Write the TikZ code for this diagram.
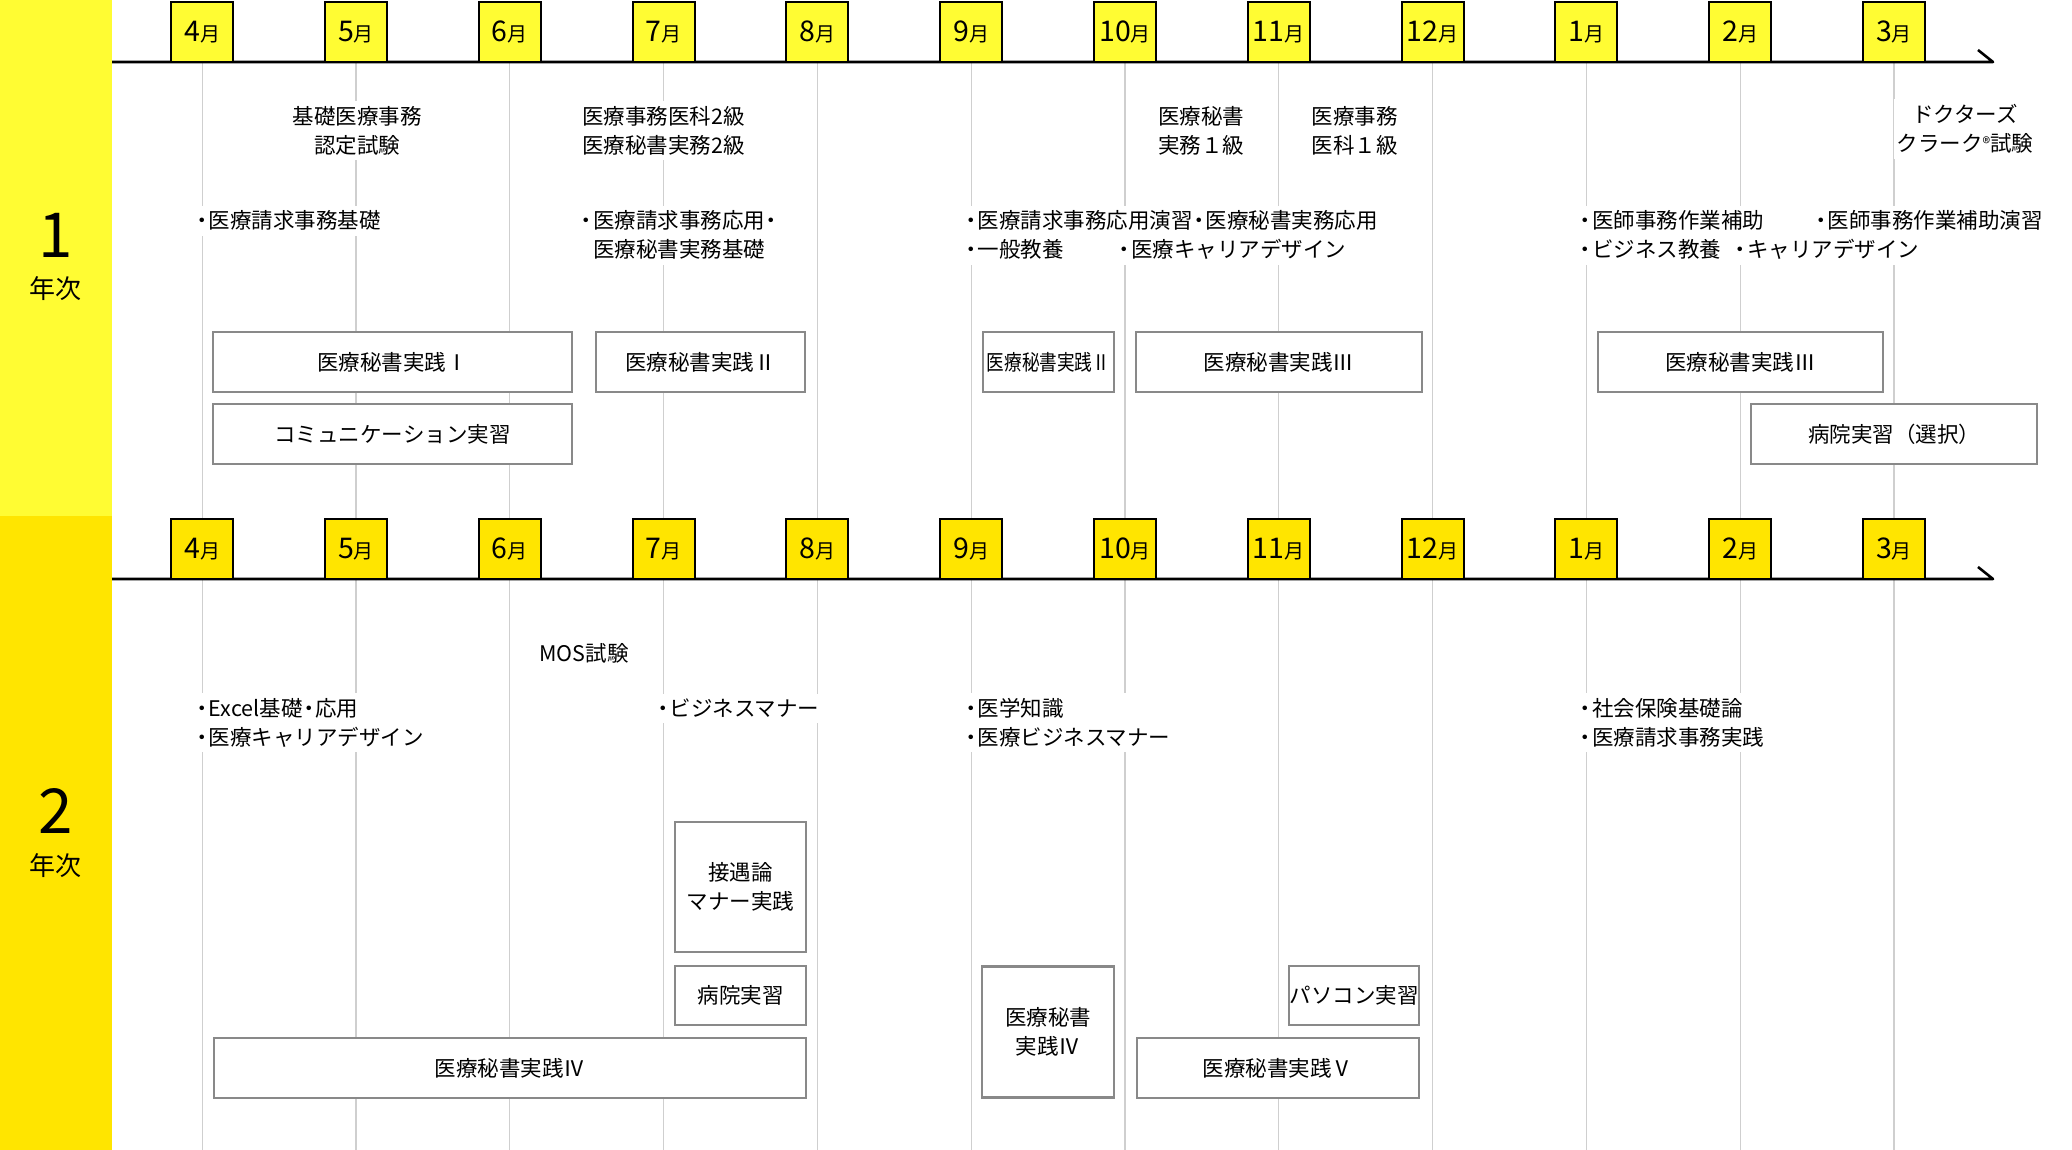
\documentclass[tikz,border=0pt]{standalone}
\usepackage{fontspec}
\setmainfont{Noto Sans CJK JP}
\usepackage{tikz}
\usetikzlibrary{backgrounds}
\definecolor{Amarillo1}{HTML}{FFFC33}
\definecolor{Amarillo2}{HTML}{FFE500}
\definecolor{Gris1}{HTML}{898989}
\definecolor{Gris2}{HTML}{CFCFCF}
\newcommand{\texto}{\fontsize{21.5}{29}\selectfont}
\newcommand{\etiq}[1]{{\fontsize{28.5}{28.5}\selectfont #1}{\fontsize{20}{20}\selectfont 月}}
\newcommand{\bul}{\makebox[0.6em][c]{・}}

\begin{document}
\begin{tikzpicture}[x=1pt, y=-1pt,
  mesA/.style ={rectangle, draw=black, line width=2pt, fill=Amarillo1,
                minimum width=62, minimum height=60, inner sep=0pt},
  mesB/.style ={mesA, fill=Amarillo2},
  caja/.style ={rectangle, draw=Gris1, line width=2.2pt, fill=white,
                minimum height=60, inner sep=0pt, align=center, font=\texto},
  txt/.style  ={fill=white, inner xsep=3pt, inner ysep=5pt,
                align=center, font=\texto},
  lst/.style  ={txt, align=left, anchor=west},
  anio/.style ={inner sep=0pt},
  eje/.style  ={line width=2.6pt, line join=round},
  rejilla/.style={draw=Gris2, line width=1.3pt},
]
\useasboundingbox (0,0) rectangle (2072,1150);

%% ═══ 1年次 ═══
\node[anio, font=\fontsize{62}{62}\selectfont] (Y1)  at (55.5, 235) {1};
\node[anio, font=\fontsize{26}{26}\selectfont] (Y1t) at (55.5, 289) {年次};

\coordinate (EA0) at (112, 62);
\coordinate (EA1) at (1993, 62);
\coordinate (EAk) at (1978, 50);
\draw[eje] (EA0) -- (EA1) -- (EAk);

\node[mesA] (MA4)  at (202.2, 32)  {\etiq{4}};
\node[mesA] (MA5)  at (356.0, 32)  {\etiq{5}};
\node[mesA] (MA6)  at (509.8, 32)  {\etiq{6}};
\node[mesA] (MA7)  at (663.6, 32)  {\etiq{7}};
\node[mesA] (MA8)  at (817.4, 32)  {\etiq{8}};
\node[mesA] (MA9)  at (971.2, 32)  {\etiq{9}};
\node[mesA] (MA10) at (1125.0, 32) {\etiq{10}};
\node[mesA] (MA11) at (1278.8, 32) {\etiq{11}};
\node[mesA] (MA12) at (1432.6, 32) {\etiq{12}};
\node[mesA] (MA1)  at (1586.4, 32) {\etiq{1}};
\node[mesA] (MA2)  at (1740.2, 32) {\etiq{2}};
\node[mesA] (MA3)  at (1894.0, 32) {\etiq{3}};

% Exámenes
\node[txt] (AX1) at (357, 130.5)    {基礎医療事務\\認定試験};
\node[txt] (AX2) at (663.6, 130.5)  {医療事務医科2級\\医療秘書実務2級};
\node[txt] (AX3) at (1201, 130.5)   {医療秘書\\実務１級};
\node[txt] (AX4) at (1354.5, 130.5) {医療事務\\医科１級};
\node[txt] (AX5) at (1965, 129)
  {ドクターズ\\クラーク\raisebox{2pt}{\fontsize{16}{16}\selectfont ®}試験};

% Asignaturas
\node[lst] (AL1) at (192.7, 220.7) {\bul 医療請求事務基礎};
\node[lst] (AL2) at (577, 235.2)
  {\bul 医療請求事務応用\bul\\\makebox[0.6em]{}医療秘書実務基礎};
\node[lst] (AL3) at (961.5, 235.2)
  {\bul 医療請求事務応用演習\bul 医療秘書実務応用\\\bul 一般教養};
\node[lst] (AL4) at (1115, 249.7)  {\bul 医療キャリアデザイン};
\node[lst] (AL5) at (1576, 235.2)  {\bul 医師事務作業補助\\\bul ビジネス教養};
\node[lst] (AL6) at (1731, 249.7)  {\bul キャリアデザイン};
\node[lst] (AL7) at (1811.5, 220.7) {\bul 医師事務作業補助演習};

% Prácticas
\node[caja, minimum width=359] (AC1) at (392.5, 362)  {医療秘書実践Ⅰ};
\node[caja, minimum width=359] (AC2) at (392.5, 434)  {コミュニケーション実習};
\node[caja, minimum width=209] (AC3) at (700.5, 362)  {医療秘書実践Ⅱ};
\node[caja, minimum width=131] (AC4) at (1048.5, 362) {\scalebox{0.82}[1]{医療秘書実践Ⅱ}};
\node[caja, minimum width=286] (AC5) at (1279, 362)   {医療秘書実践Ⅲ};
\node[caja, minimum width=285] (AC6) at (1740.5, 362) {医療秘書実践Ⅲ};
\node[caja, minimum width=286] (AC7) at (1894, 434)   {病院実習（選択）};

%% ═══ 2年次 ═══
\node[anio, font=\fontsize{62}{62}\selectfont] (Y2)  at (55.5, 811)   {2};
\node[anio, font=\fontsize{26}{26}\selectfont] (Y2t) at (55.5, 865.5) {年次};

\coordinate (EB0) at (112, 579);
\coordinate (EB1) at (1993, 579);
\coordinate (EBk) at (1978, 567);
\draw[eje] (EB0) -- (EB1) -- (EBk);

\node[mesB] (MB4)  at (202.2, 549)  {\etiq{4}};
\node[mesB] (MB5)  at (356.0, 549)  {\etiq{5}};
\node[mesB] (MB6)  at (509.8, 549)  {\etiq{6}};
\node[mesB] (MB7)  at (663.6, 549)  {\etiq{7}};
\node[mesB] (MB8)  at (817.4, 549)  {\etiq{8}};
\node[mesB] (MB9)  at (971.2, 549)  {\etiq{9}};
\node[mesB] (MB10) at (1125.0, 549) {\etiq{10}};
\node[mesB] (MB11) at (1278.8, 549) {\etiq{11}};
\node[mesB] (MB12) at (1432.6, 549) {\etiq{12}};
\node[mesB] (MB1)  at (1586.4, 549) {\etiq{1}};
\node[mesB] (MB2)  at (1740.2, 549) {\etiq{2}};
\node[mesB] (MB3)  at (1894.0, 549) {\etiq{3}};

\node[txt] (BX1) at (584, 653) {MOS試験};

\node[lst] (BL1) at (192.7, 722.8) {\bul Excel基礎\bul 応用\\\bul 医療キャリアデザイン};
\node[lst] (BL2) at (653.5, 708.3) {\bul ビジネスマナー};
\node[lst] (BL3) at (961.5, 722.8) {\bul 医学知識\\\bul 医療ビジネスマナー};
\node[lst] (BL4) at (1576, 722.8)  {\bul 社会保険基礎論\\\bul 医療請求事務実践};

\node[caja, minimum width=131, minimum height=130] (BC1) at (740.5, 887)  {接遇論\\マナー実践};
\node[caja, minimum width=131, minimum height=59]  (BC2) at (740.5, 995.5) {病院実習};
\node[caja, minimum width=592]                     (BC3) at (510, 1068)    {医療秘書実践Ⅳ};
\node[caja, minimum width=132, minimum height=131] (BC4) at (1048, 1032)   {医療秘書\\実践Ⅳ};
\node[caja, minimum width=130, minimum height=59]  (BC5) at (1354, 995.5)  {パソコン実習};
\node[caja, minimum width=282]                     (BC6) at (1278, 1068)   {医療秘書実践Ⅴ};

% Fondo
\coordinate (FIN) at (0, 1150);
\begin{pgfonlayer}{background}
  \fill[Amarillo1] (0, 0) rectangle (112, 516);
  \fill[Amarillo2] (0, 516) rectangle (112, 1150);
  \draw[rejilla] (MA4.south)  -- (MB4.north)  (MB4.south)  -- (MB4.south |- FIN);
  \draw[rejilla] (MA5.south)  -- (MB5.north)  (MB5.south)  -- (MB5.south |- FIN);
  \draw[rejilla] (MA6.south)  -- (MB6.north)  (MB6.south)  -- (MB6.south |- FIN);
  \draw[rejilla] (MA7.south)  -- (MB7.north)  (MB7.south)  -- (MB7.south |- FIN);
  \draw[rejilla] (MA8.south)  -- (MB8.north)  (MB8.south)  -- (MB8.south |- FIN);
  \draw[rejilla] (MA9.south)  -- (MB9.north)  (MB9.south)  -- (MB9.south |- FIN);
  \draw[rejilla] (MA10.south) -- (MB10.north) (MB10.south) -- (MB10.south |- FIN);
  \draw[rejilla] (MA11.south) -- (MB11.north) (MB11.south) -- (MB11.south |- FIN);
  \draw[rejilla] (MA12.south) -- (MB12.north) (MB12.south) -- (MB12.south |- FIN);
  \draw[rejilla] (MA1.south)  -- (MB1.north)  (MB1.south)  -- (MB1.south |- FIN);
  \draw[rejilla] (MA2.south)  -- (MB2.north)  (MB2.south)  -- (MB2.south |- FIN);
  \draw[rejilla] (MA3.south)  -- (MB3.north)  (MB3.south)  -- (MB3.south |- FIN);
\end{pgfonlayer}

\end{tikzpicture}
\end{document}
